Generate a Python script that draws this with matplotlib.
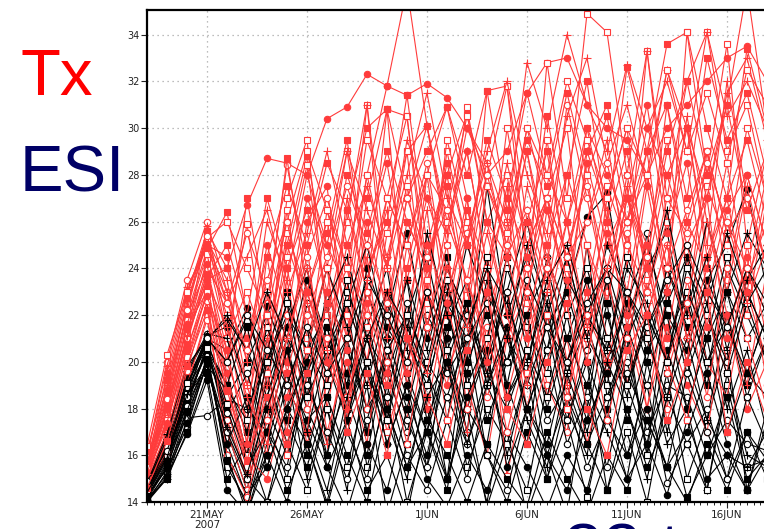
import numpy as np
import matplotlib
matplotlib.use("Agg")
import matplotlib.pyplot as plt
import matplotlib.dates as mdates

# ── data: daily values, 18 May .. 18 Jun 2007 ────────────────────────────────
days = np.arange("2007-05-18", "2007-06-19", dtype="datetime64[D]")

tick_dates  = np.array(["2007-05-21", "2007-05-26", "2007-06-01",
                        "2007-06-06", "2007-06-11", "2007-06-16"], dtype="datetime64[D]")
tick_labels = ["21MAY\n2007", "26MAY", "1JUN", "6JUN", "11JUN", "16JUN"]
y_ticks     = [14, 16, 18, 20, 22, 24, 26, 28, 30, 32, 34]

# Tx members (red)
tx_01 = [15.5, 18, 21, 23.5, 24, 26.7, 28.7, 28.5, 28, 30.4, 30.9, 32.3, 31.8, 31.4, 31.9, 31.3, 30, 28, 29, 31.5, 32.8, 33, 31, 30, 29.5, 28, 30, 31, 32, 33, 33.5, 32]
tx_02 = [15.8, 19, 22.5, 25.5, 21, 25.9, 20, 27, 29.5, 22, 26, 31, 24, 29, 30.1, 25, 30.9, 26, 28, 23, 32.8, 27, 34.9, 34.1, 28, 33.3, 27, 32, 34.1, 29, 31, 27]
tx_03 = [15.2, 18.5, 22, 24.8, 26.4, 22, 19.5, 25, 28.8, 24, 21, 27, 30.8, 30.5, 24, 27.5, 22, 31.6, 31.8, 26, 29, 24, 30, 26, 32.6, 29, 33.6, 34.1, 30, 27, 33.4, 30]
tx_04 = [16, 20, 23.5, 26, 23, 18, 22.5, 28.4, 24, 19, 26.5, 23, 30.8, 21, 28, 30.9, 27, 22, 25, 29, 24, 31, 27, 23, 28, 24, 31, 26, 29, 23.5, 28, 25]
tx_05 = [15, 17.5, 21, 25.8, 21.5, 17, 21, 24, 20, 26.5, 23, 31, 22, 27, 30.1, 25.5, 29, 24, 28.5, 25, 27, 23, 26, 29.5, 24, 33.3, 26, 30, 25, 32, 27, 24]
tx_06 = [15.5, 19.5, 23, 25, 24.5, 20, 25, 22, 27, 25, 23, 28, 31.8, 36, 30.1, 26, 29, 24, 27, 31.5, 28, 26, 30, 28, 26, 30, 28, 25, 27, 31, 36, 30]
tx_07 = [14.8, 17, 20, 23, 19, 16, 20, 26.5, 21, 24, 29, 23.5, 27, 30.5, 23, 29, 25, 28, 31.8, 24, 27, 30, 23, 27.5, 25, 29, 23, 34.1, 28, 33.6, 25, 29]
tx_08 = [15.3, 18, 21.5, 23, 20, 27, 22, 28.7, 23, 25.5, 29.5, 24, 26, 31.4, 25, 28, 30.6, 26, 24.5, 29, 25, 28, 32, 26, 29, 24, 28, 30, 24.5, 27, 29.5, 26]
tx_09 = [14.6, 16.5, 19, 22, 17, 14.5, 18, 21, 25, 18, 22.5, 20, 24.5, 19, 23, 21, 25.5, 19.5, 23, 18, 22, 26, 20.5, 24, 19, 22, 25, 21, 23.5, 20, 24, 22]
tx_10 = [15, 17, 20, 22.5, 18, 15, 19, 23.5, 19, 16.5, 21, 24.5, 18, 22, 26.5, 20, 17, 23, 27.5, 21, 24, 19, 22.5, 26, 21.5, 18, 23, 20, 26, 22, 19, 24]
tx_11 = [15.6, 18.8, 22, 24, 20.5, 16.5, 23, 20, 26, 27.5, 21, 25, 28.5, 23.5, 27, 24, 22, 27.5, 25, 30, 26.5, 23, 28.5, 25, 27, 31, 25.5, 28.5, 23, 26.5, 28, 25]
tx_12 = [15.1, 17.8, 21.2, 24.4, 22, 19, 16, 24.5, 28.4, 22, 24, 20, 25.5, 29, 21.5, 26, 23.5, 20.5, 26, 22.5, 29.5, 24, 21, 27, 30, 23, 26, 22, 29, 25.5, 22, 27]
tx_13 = [16.2, 19.2, 22.8, 25.6, 24, 21, 24.5, 27.5, 25, 28.5, 26.5, 30, 30.8, 27, 29, 30.9, 28, 31.6, 26.5, 29.5, 27.5, 31.5, 28, 30.5, 26, 29, 31, 27, 33, 29.5, 31.5, 28]
tx_14 = [14.5, 16, 19, 21.8, 17.5, 15, 17, 20.5, 16.5, 19, 22, 18, 20.5, 17.5, 24, 19.5, 22, 18.5, 21, 24, 19, 17, 22, 20, 25.5, 21, 18, 23.5, 20, 18.5, 23, 20]
tx_15 = [15.4, 19, 22.4, 25.2, 23.5, 19, 21.5, 25, 22.5, 20, 27, 23, 21, 26, 24, 28, 23, 26, 22, 27.5, 24.5, 22, 29, 26.5, 23, 28, 24, 30.5, 26, 23, 27.5, 24]
tx_16 = [14.9, 16.8, 20.5, 23.2, 19.5, 16, 15, 18.5, 22, 17, 20, 16.5, 23, 21, 18, 22.5, 19, 16, 21, 23, 18.5, 21, 16.5, 20, 23, 18, 21.5, 19, 17, 22, 18, 20]
tx_17 = [15.7, 18.3, 21.8, 24.6, 21, 23, 20.5, 25.5, 23, 26, 22, 28, 24, 27.5, 22.5, 29.5, 26, 23, 30, 25, 27, 24.5, 28, 22.5, 27, 25, 29.5, 24, 27.5, 25, 30, 27]
tx_18 = [15.2, 17.2, 20.8, 23.8, 20, 17.5, 24.5, 19.5, 23, 20.5, 25, 22, 19, 24, 28, 22, 26.5, 24, 21, 26, 23, 28, 25, 22.5, 27, 24, 21, 26, 24, 28.5, 23.5, 26]
tx_19 = [15.0, 17.6, 21.0, 24.0, 22.5, 25.5, 23, 21, 24.5, 27, 24, 22, 27, 25, 28.5, 23, 25.5, 28.5, 24.5, 26.5, 23.5, 25, 27.5, 24, 26, 28, 24, 26.5, 29, 25.5, 27, 24]
tx_20 = [15.6, 18.6, 22.6, 25, 23, 20, 26, 23.5, 28, 25, 29, 26.5, 24, 29.5, 27, 25.5, 30, 28.5, 26, 32.8, 30, 34, 31, 29, 32.7, 30, 32, 29, 34.1, 30.5, 32, 30]
tx_21 = [15.3, 18, 21.6, 24.2, 19, 15.5, 20, 17, 23, 20, 18, 22.5, 19.5, 25, 21.5, 19, 23.5, 21, 18.5, 22, 25, 20, 23, 19.5, 21.5, 25, 20, 22.5, 27, 21, 24.5, 19]
tx_22 = [15.0, 17.5, 20.2, 23, 18.5, 15.5, 19.5, 16, 20.5, 24, 18.5, 21.5, 17, 20, 23.5, 17.5, 21, 24, 15.1, 19.5, 22, 18, 25, 21, 19, 23.5, 20, 17.5, 22, 19.5, 25, 21]
tx_23 = [15.4, 18.2, 21.4, 23.6, 25, 22, 27, 24, 26.5, 23, 28, 25.5, 29, 26, 24, 28.5, 25, 29.5, 27, 24.5, 30.5, 26, 29, 31, 27, 24.5, 29, 32, 28, 31, 26.5, 29]
tx_24 = [14.7, 16.2, 19.6, 22.6, 16, 14.2, 17.5, 22, 18, 21, 17.5, 23, 20, 16.5, 21.5, 25, 18, 21.5, 17, 20.5, 24, 18.5, 22, 17.5, 21, 24.5, 19.5, 22.5, 18.5, 24, 21, 18]
tx_25 = [15.9, 19.8, 23.2, 24.9, 22.5, 24.5, 26.5, 23, 25.5, 29, 25, 27.5, 24.5, 28, 31.5, 27, 25, 29, 32, 28, 25.5, 30.5, 33, 28.5, 31, 27.5, 32.5, 30, 27, 31.5, 33, 29.5]
tx_26 = [15.1, 17.4, 20.6, 22.8, 20.5, 16.5, 22, 19, 17, 23, 20.5, 26, 22, 19.5, 25, 22.5, 27, 20, 24.5, 21, 26.5, 23.5, 20, 25.5, 22, 27.5, 23, 25, 21.5, 26, 23, 27.5]
tx_27 = [16.4, 20.3, 23, 25.3, 26, 24, 22, 26, 29, 26.5, 24, 29.5, 27, 25, 28, 26.5, 30.5, 27.5, 25.5, 30, 28, 32, 29.5, 27, 30, 28, 32.5, 29, 31.5, 28.5, 32.5, 31]
tx_28 = [14.6, 16.6, 19.8, 22.2, 18.8, 15.8, 18.5, 16.5, 19.5, 22.5, 17, 19.5, 16, 21, 18.5, 16.5, 20.5, 23, 18, 16.5, 20, 22.5, 18, 16, 20.5, 22, 17.5, 20, 23, 17, 20, 17.5]
tx_29 = [15.5, 18.4, 22.2, 25.4, 22.5, 20.5, 23.5, 26, 22, 24.5, 27.5, 25, 22.5, 27, 24.5, 26.5, 23.5, 28, 25, 23, 27, 24.5, 26, 28.5, 25, 23, 27, 25.5, 28.5, 26, 24, 28]
tx_30 = [15.2, 17.9, 21.1, 23.4, 21.5, 18.5, 16.5, 21, 24, 20.5, 18, 23.5, 26.5, 21, 19.5, 24, 21.5, 25.5, 22, 19, 23, 26, 21.5, 24, 27.5, 22, 25, 21, 24, 27, 22.5, 25]

# ESI members (black)
esi_01 = [14.2, 15.5, 18, 20.8, 17, 14.5, 18.5, 21, 16, 19.5, 22.5, 17, 20, 23.5, 18, 15, 21, 24, 19, 16.5, 22, 19, 25, 18.5, 21, 16, 23, 20, 17.5, 22, 19, 21]
esi_02 = [14.5, 16, 18.8, 21.2, 19.5, 16, 21, 18, 22.5, 20, 17.5, 21.5, 24, 19, 22, 20.5, 17, 23, 21, 19.5, 24.5, 22, 18, 23.5, 20.5, 25.5, 21, 23, 19.5, 24, 22, 20]
esi_03 = [14.0, 15, 17.5, 20.2, 16, 13.5, 16.5, 19.5, 15, 18, 14.5, 20, 16.5, 19, 15.5, 21, 17, 14, 18.5, 20.5, 16, 13.5, 19, 17, 15, 20, 16.5, 18, 14.5, 19.5, 16, 15.5]
esi_04 = [14.8, 16.5, 19.2, 21, 20.5, 22.3, 19, 21.5, 18.5, 23, 20.5, 18, 22, 25.5, 21, 23.5, 20, 27.5, 22, 24.5, 21.5, 23, 26.2, 27.2, 22, 24, 25.6, 21, 23.5, 25, 27.4, 23]
esi_05 = [14.3, 15.8, 18.5, 20.5, 15.5, 14, 17.5, 15, 19.5, 16, 21, 15.5, 18.5, 14, 17, 20, 15.5, 18, 16.5, 14.5, 19, 17.5, 14.2, 18, 21.5, 16, 19.5, 15, 17.5, 20.5, 14.5, 18]
esi_06 = [14.6, 16.2, 19, 20.9, 18.5, 20, 22, 17.5, 20.5, 22, 19.5, 23, 20.5, 18, 21.5, 24.5, 20, 22, 19, 23, 20.5, 24.5, 21, 19.5, 22.5, 20, 24, 21.5, 19, 23, 21, 22.5]
esi_07 = [14.4, 16, 17.6, 17.7, 18.4, 18, 17, 19.5, 17.5, 18.5, 21, 18, 19.5, 17, 20, 18.5, 16.5, 19.5, 18, 20.5, 17.5, 19, 16.5, 18.5, 20, 17, 19, 18.5, 16, 17.5, 16.5, 16.2]
esi_08 = [14.1, 15.2, 17.8, 19.8, 16.5, 14.2, 16, 19, 21.5, 16.5, 19, 22, 17.5, 15, 19, 22.5, 18, 20.5, 16, 19.5, 22.5, 18, 16, 21, 18.5, 22, 17, 20, 22.5, 18, 20.5, 17]
esi_09 = [14.7, 16.8, 19.5, 21.1, 21.5, 19, 22.4, 20, 23.5, 21, 19, 24, 21.5, 20, 23, 21, 25, 22.5, 20, 22, 24, 21, 23.5, 20, 22.5, 25, 22, 20.5, 23.5, 21.5, 24, 22]
esi_10 = [14.2, 15.6, 18.2, 20.6, 17.5, 15, 19.5, 16.5, 14.5, 18, 15.5, 19, 13.5, 16.5, 20, 15, 18, 13.8, 16.5, 19.5, 15, 17.5, 20, 14.5, 17, 14, 18.5, 16.5, 14.5, 19, 15.5, 17]
esi_11 = [14.9, 16.4, 19.3, 20.7, 19, 17, 20.5, 23, 19.5, 21.5, 18, 20, 23, 19.5, 17, 21.5, 23.5, 19, 21, 18, 20.5, 23, 20, 17.5, 21.5, 19, 22.5, 24.5, 20, 22, 18.5, 21]
esi_12 = [14.0, 15.3, 17.2, 20, 16, 14.3, 15.5, 18, 16.5, 13.8, 17, 15, 19, 16, 14.5, 17.5, 15, 19, 17, 13.5, 16, 18.5, 15.5, 17.5, 16, 19, 14.8, 16.5, 18, 15, 17, 15.8]
esi_13 = [14.5, 16.1, 18.7, 20.9, 22, 20.5, 18.5, 21.5, 24, 20, 22.5, 25, 21, 23.5, 20.5, 24, 22, 19.5, 23, 26, 22, 24.5, 21, 25, 23, 20.5, 24, 22, 26, 23, 25.5, 24]
esi_14 = [14.3, 15.9, 18.4, 20.4, 18, 15.5, 17, 20.5, 18, 16, 19.5, 17, 21, 18.5, 16, 20, 18, 16.5, 21.5, 18, 16.5, 20, 17.5, 22, 19, 16.5, 20.5, 18, 21, 17, 19.5, 18.5]
esi_15 = [14.6, 16.6, 19, 21, 20, 21.8, 19.5, 22.5, 20.5, 19, 23, 21, 19.5, 22, 24.5, 20.5, 22.5, 19, 24, 21.5, 19.5, 23.5, 22, 20.5, 24.5, 22, 20, 23, 21, 24.5, 22.5, 20]
esi_16 = [14.1, 15, 17, 19.5, 15, 16.5, 14, 17.5, 15.5, 18.5, 16, 14, 18, 15.5, 17, 14.5, 19.5, 16, 14, 17, 15, 18.5, 16.5, 14.5, 18, 15.5, 17.5, 14.2, 16, 18.5, 15, 16]
esi_17 = [14.4, 16.3, 18.9, 20.3, 17.8, 19.5, 17, 15.5, 20, 22.5, 17.5, 21, 18.5, 22.5, 19.5, 17.5, 22, 20, 23, 19, 21.5, 17.5, 20.5, 23.5, 19, 21.5, 23, 19.5, 22, 20, 23, 21]
esi_18 = [14.7, 16.7, 19.6, 21.2, 21, 18, 20, 22, 20.5, 24, 21.5, 19, 22.5, 20.5, 25.5, 22, 19.5, 23.5, 21, 25, 22.5, 20, 22, 24, 21, 23, 26.5, 22, 24.5, 20.5, 23.5, 25]
esi_19 = [14.0, 15.1, 16.9, 19.2, 14.5, 13.5, 16, 14, 17.5, 15.5, 13.6, 16.5, 14.5, 18, 15, 13.8, 16, 14.5, 17, 15.5, 13.7, 16, 14.5, 18, 15, 16.5, 14.3, 17.5, 15, 16, 14.5, 16]
esi_20 = [14.5, 16, 18.6, 19.8, 18.8, 17.5, 21.5, 19, 17, 20.5, 23.5, 19.5, 17.5, 21, 19, 22.5, 21, 24.5, 18.5, 20, 23, 19.5, 21.5, 19, 23, 21, 18.5, 22.5, 20, 21.5, 19.5, 22]
esi_21 = [14.2, 15.7, 18.3, 20.5, 19, 21.5, 18, 16, 19, 21.5, 18.5, 16, 20.5, 22, 17.5, 20, 22.5, 17.5, 20, 22, 18, 21, 19, 22.5, 17.5, 20.5, 22, 18, 21, 23, 19.5, 22]
esi_22 = [14.6, 16.3, 18.1, 20, 17, 15, 14, 16.5, 19, 17, 15, 17.5, 20.5, 17.5, 15.5, 18.5, 21, 16, 14.5, 18, 20.5, 16.5, 18.5, 15.5, 19.5, 17.5, 15.5, 19.5, 17, 15, 18.5, 16.5]
esi_23 = [14.8, 16.9, 19.8, 21, 21.8, 20.5, 23, 21, 19.5, 22.5, 24.5, 21, 23, 21.5, 19.5, 23, 21.5, 24, 22.5, 20, 23.5, 25, 22, 20.5, 24, 22.5, 20, 24.5, 22.5, 25.5, 23, 21]
esi_24 = [14.3, 15.4, 17.4, 19.9, 16.5, 18.5, 15.5, 18, 20, 15.5, 17.5, 20, 16.5, 19, 17, 15, 18.5, 20.5, 15.5, 18, 16, 14.5, 17.5, 19.5, 16, 18, 15.5, 17, 19.5, 16.5, 14.5, 17.5]
esi_25 = [14.5, 16.4, 19.1, 20.6, 18.2, 16, 20, 22.5, 18.5, 20.5, 22.5, 20, 17.5, 22, 20, 23.5, 19, 21, 24.5, 20.5, 18.5, 22, 24, 21, 19, 22, 20, 24, 22, 19.5, 22.5, 24]
esi_26 = [14.1, 15.5, 17.9, 20.1, 15.8, 13.8, 17, 14.5, 16.5, 14, 17.5, 14.5, 16, 13.5, 17.5, 16, 14, 16.5, 15, 13.8, 17, 15, 13.5, 16, 14.5, 17.5, 15.5, 14, 16.5, 14.5, 17, 15]
esi_27 = [14.9, 16.2, 18.5, 21, 20, 22, 20.5, 19, 21.5, 19.5, 21, 23.5, 22, 20, 23, 19.5, 21, 22.5, 20, 23.5, 21.5, 20, 22.5, 24, 23, 21.5, 23.5, 25, 23, 21.5, 24, 22.5]
esi_28 = [14.4, 15.9, 18.6, 19.6, 17.2, 15.2, 18, 20.5, 17, 14.5, 18.5, 21, 18, 15.5, 18.5, 20, 16.5, 19, 21.5, 17.5, 15.5, 19.5, 17, 20, 18, 15, 18.5, 21, 17.5, 16, 15.5, 15.8]

tx_members = [tx_01, tx_02, tx_03, tx_04, tx_05, tx_06, tx_07, tx_08, tx_09, tx_10,
              tx_11, tx_12, tx_13, tx_14, tx_15, tx_16, tx_17, tx_18, tx_19, tx_20,
              tx_21, tx_22, tx_23, tx_24, tx_25, tx_26, tx_27, tx_28, tx_29, tx_30]
esi_members = [esi_01, esi_02, esi_03, esi_04, esi_05, esi_06, esi_07, esi_08, esi_09, esi_10,
               esi_11, esi_12, esi_13, esi_14, esi_15, esi_16, esi_17, esi_18, esi_19, esi_20,
               esi_21, esi_22, esi_23, esi_24, esi_25, esi_26, esi_27, esi_28]

# ── styles ────────────────────────────────────────────────────────────────────
RED   = "#ff3b3b"
BLACK = "#000000"
NAVY  = "#000066"
# (marker, filled?)
MARKERS = [("o", True), ("s", False), ("s", True), ("o", False), ("+", True)]


def draw_member(ax, values, i, color):
    m, filled = MARKERS[i % len(MARKERS)]
    ax.plot(days, values, color=color, lw=0.8, marker=m,
            markersize=4.6 if m != "+" else 6,
            markerfacecolor=(color if filled else "white"),
            markeredgecolor=color, markeredgewidth=0.8, clip_on=True)


fig = plt.figure(figsize=(7.64, 5.29), dpi=100)
# axes run past the right edge of the picture, like the cropped original
ax = fig.add_axes([147 / 764, 27 / 529, 700 / 764, 492 / 529])

n = max(len(tx_members), len(esi_members))
for i in range(n):
    if i < len(tx_members):
        draw_member(ax, tx_members[i], i, RED)
    if i < len(esi_members):
        draw_member(ax, esi_members[i], i + 2, BLACK)

ax.set_xlim(np.datetime64("2007-05-18"), np.datetime64("2007-06-22"))
ax.set_ylim(14, 35.05)

ax.set_yticks(y_ticks)
ax.set_xticks(tick_dates)
ax.set_xticklabels(tick_labels, linespacing=0.95)
ax.xaxis.set_minor_locator(mdates.HourLocator(byhour=[0, 8, 16]))

ax.tick_params(axis="y", direction="out", length=4, width=0.8,
               labelsize=7, pad=1.5, colors="#222222")
ax.tick_params(axis="x", which="major", direction="out", length=4, width=0.8,
               labelsize=7.5, pad=2, colors="#222222")
ax.tick_params(axis="x", which="minor", direction="out", length=2, width=0.6)

ax.grid(True, color="#a8a8a8", linestyle=(0, (1, 3)), linewidth=0.9)
ax.set_axisbelow(True)
for side in ["left", "top", "bottom"]:
    ax.spines[side].set_linewidth(1.6)
ax.spines["right"].set_visible(False)

# slide labels
fig.text(21 / 764, 1 - 95 / 529, "Tx", color="#ff0000", fontsize=47,
         family="Liberation Sans", ha="left", va="baseline")
fig.text(20 / 764, 1 - 191 / 529, "ESI", color=NAVY, fontsize=47,
         family="Liberation Sans", ha="left", va="baseline")
# caption below the chart, cut by the lower edge as in the original slide
fig.text(564 / 764, 1 - 571 / 529, "32 temps", color=NAVY, fontsize=50,
         family="Liberation Sans", ha="left", va="baseline")

fig.savefig("out.png", dpi=100)
